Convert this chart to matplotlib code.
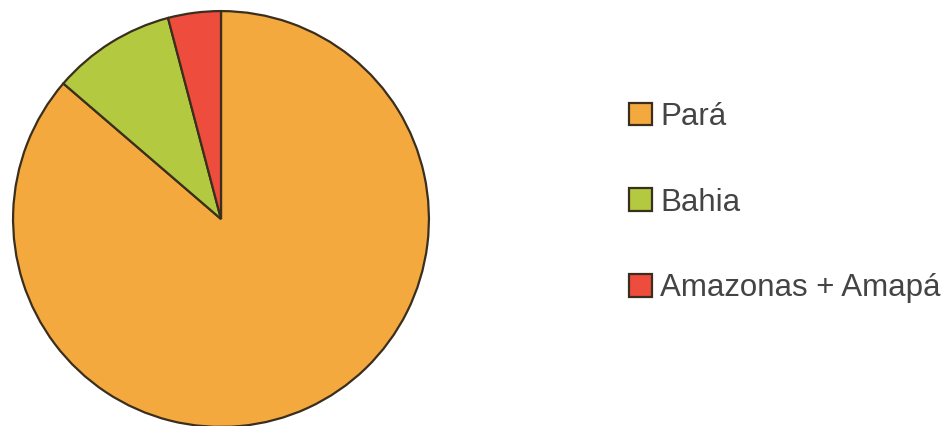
import matplotlib
matplotlib.use('Agg')
import matplotlib.pyplot as plt

# share of each state
states = ['Pará', 'Bahia', 'Amazonas + Amapá']
shares = [86.3, 9.6, 4.1]
colors = ['#F4A93E', '#B3C93F', '#EE4C3C']

plt.rcParams['font.family'] = ['Liberation Sans', 'DejaVu Sans']

fig = plt.figure(figsize=(9.49, 4.26), dpi=100)

# pie axes placed in pixels: centre (221, 219) from top, radius 210
ax = fig.add_axes([11 / 949, -3 / 426, 420 / 949, 420 / 426])
wedges, _ = ax.pie(shares, colors=colors, startangle=90, counterclock=False,
                   wedgeprops=dict(edgecolor='#3a2e1e', linewidth=1.6))
ax.set_xlim(-1.01, 1.01)
ax.set_ylim(-1.01, 1.01)
ax.set_aspect('equal')
ax.axis('off')

leg = fig.legend(wedges, states, loc='upper left',
                 bbox_to_anchor=(629 / 949, 1 - 102 / 426),
                 frameon=False, fontsize=22.5, borderpad=0, borderaxespad=0,
                 handlelength=0.74, handleheight=0.74, handletextpad=0.26,
                 labelspacing=1.78)
for t in leg.get_texts():
    t.set_color('#444444')

fig.savefig('out.png', dpi=100)
